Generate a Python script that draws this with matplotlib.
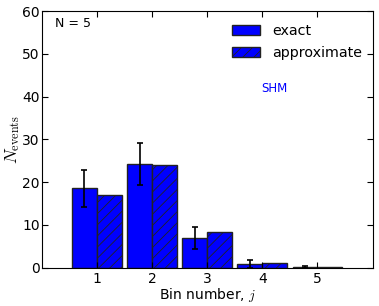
import matplotlib
matplotlib.use("Agg")
import matplotlib.pyplot as plt
import numpy as np

plt.rcParams['mathtext.fontset'] = 'cm'
plt.rcParams['hatch.linewidth'] = 0.6

bins = [1, 2, 3, 4, 5]
exact = [18.6, 24.3, 6.9, 0.8, 0.15]
approx = [17.1, 24.0, 8.3, 1.2, 0.08]
err = [4.3, 4.9, 2.6, 0.9, 0.3]

fig = plt.figure(figsize=(3.79, 3.06), dpi=100)
ax = fig.add_axes([0.110, 0.125, 0.873, 0.839])

w = 0.45
x = np.array(bins, dtype=float)
ax.bar(x - w, exact, width=w, align='edge', color='#0000ff', edgecolor='#222222',
       linewidth=1.0, label='exact')
ax.bar(x, approx, width=w, align='edge', color='#0000ff', edgecolor='#222222',
       linewidth=1.0, hatch='///', label='approximate')
ax.errorbar(x - w / 2, exact, yerr=err, fmt='none', ecolor='black',
            elinewidth=1.2, capsize=2.5, capthick=1.2)

ax.set_xlim(0, 6)
ax.set_ylim(0, 60)
ax.set_xticks(bins)
ax.set_yticks([0, 10, 20, 30, 40, 50, 60])
ax.tick_params(direction='in', top=True, right=True, labelsize=10, length=4)
ax.tick_params(axis='x', pad=3)
ax.tick_params(axis='y', pad=1.5)
ax.set_xlabel('Bin number, $j$', fontsize=10)
ax.set_ylabel(r'$N_{\rm events}$', fontsize=12.5)
ax.xaxis.set_label_coords(0.5, -0.07)
ax.yaxis.set_label_coords(-0.058, 0.5)

ax.text(0.04, 0.975, 'N = 5', transform=ax.transAxes, fontsize=9, va='top', ha='left')
ax.text(0.665, 0.70, 'SHM', transform=ax.transAxes, fontsize=8.5, color='#0000ff',
        ha='left', va='center')
ax.legend(loc='upper right', bbox_to_anchor=(1.0, 0.99), frameon=False, fontsize=10.3,
          handlelength=2.0, handleheight=0.7, borderaxespad=0.35, labelspacing=0.55,
          handletextpad=0.8)

fig.savefig('out.png', dpi=100, facecolor='white')
